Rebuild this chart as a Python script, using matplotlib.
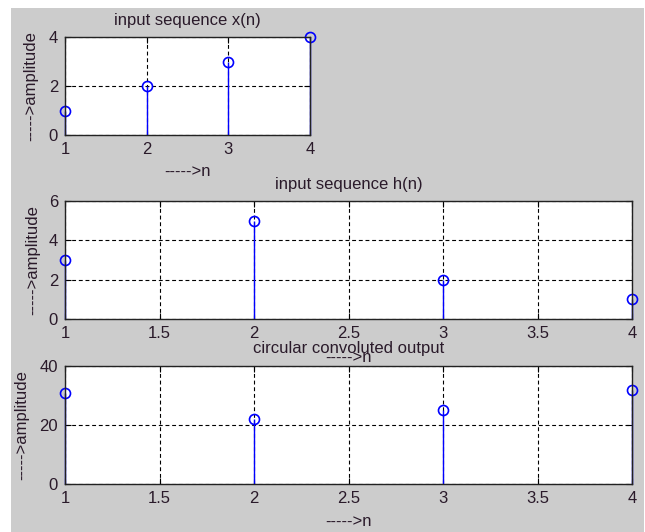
import matplotlib
matplotlib.use("Agg")
import matplotlib.pyplot as plt
from matplotlib.patches import Rectangle

# sequences
n = [1, 2, 3, 4]
x_seq = [1, 2, 3, 4]
h_seq = [3, 5, 2, 1]
y_circ = [31, 22, 25, 32]

x_ticks_top = [1, 2, 3, 4]
x_ticks_wide = [1, 1.5, 2, 2.5, 3, 3.5, 4]
y_ticks_x = [0, 2, 4]
y_ticks_h = [0, 2, 4, 6]
y_ticks_y = [0, 20, 40]

W, H = 645, 532
BG = "#cccccc"
TXT = "#2a1a2a"
FS = 12

plt.rcParams["font.family"] = ["Liberation Sans", "DejaVu Sans"]

fig = plt.figure(figsize=(W / 100, H / 100), dpi=100, facecolor="white")
fig.patches.append(Rectangle((11 / W, 0), (644 - 11) / W, (H - 8) / H,
                             transform=fig.transFigure, facecolor=BG,
                             edgecolor="none", zorder=-10))


def px_axes(l, t, r, b):
    return fig.add_axes([l / W, 1 - b / H, (r - l) / W, (b - t) / H])


def draw(ax, vals, xt, yt, title, box, xlab_px, ylab_px):
    l, t, r, b = box
    ml, sl, bl = ax.stem(n, vals, linefmt="b-", markerfmt="bo", basefmt=" ")
    sl.set_linewidth(1.0)
    sl.set_clip_on(False)
    ml.set_markerfacecolor("none")
    ml.set_markeredgewidth(1.2)
    ml.set_markersize(7.2)
    ml.set_clip_on(False)
    ax.set_xlim(xt[0], xt[-1])
    ax.set_ylim(yt[0], yt[-1])
    ax.set_xticks(xt)
    ax.set_xticklabels([f"{v:g}" for v in xt])
    ax.set_yticks(yt)
    ax.grid(True, color="black", linestyle=(0, (3.5, 2.5)), linewidth=0.8)
    ax.tick_params(direction="in", length=4, width=0.8, top=True, right=True,
                   labelsize=FS, labelcolor=TXT, color="black")
    ax.tick_params(axis="x", pad=5)
    ax.tick_params(axis="y", pad=5)
    for s in ax.spines.values():
        s.set_linewidth(1.0)
        s.set_color("#222222")
    ax.set_title(title, fontsize=FS, color=TXT, pad=9)
    # label centres given in figure pixels, converted to axes fractions
    ax.set_xlabel("----->n", fontsize=FS, color=TXT, va="center")
    ax.xaxis.set_label_coords(0.5, (b - xlab_px) / (b - t))
    ax.set_ylabel("----->amplitude", fontsize=FS, color=TXT, va="center")
    ax.yaxis.set_label_coords((ylab_px - l) / (r - l), 0.5)


box1 = (65, 37, 310, 135)
ax1 = px_axes(*box1)
draw(ax1, x_seq, x_ticks_top, y_ticks_x, "input sequence x(n)", box1, 172, 31)

box2 = (65, 201, 632, 319)
ax2 = px_axes(*box2)
draw(ax2, h_seq, x_ticks_wide, y_ticks_h, "input sequence h(n)", box2, 357, 33)

box3 = (65, 366, 632, 484)
ax3 = px_axes(*box3)
draw(ax3, y_circ, x_ticks_wide, y_ticks_y, "circular convoluted output", box3, 521, 22)

fig.savefig("out.png", dpi=100, facecolor=fig.get_facecolor())
